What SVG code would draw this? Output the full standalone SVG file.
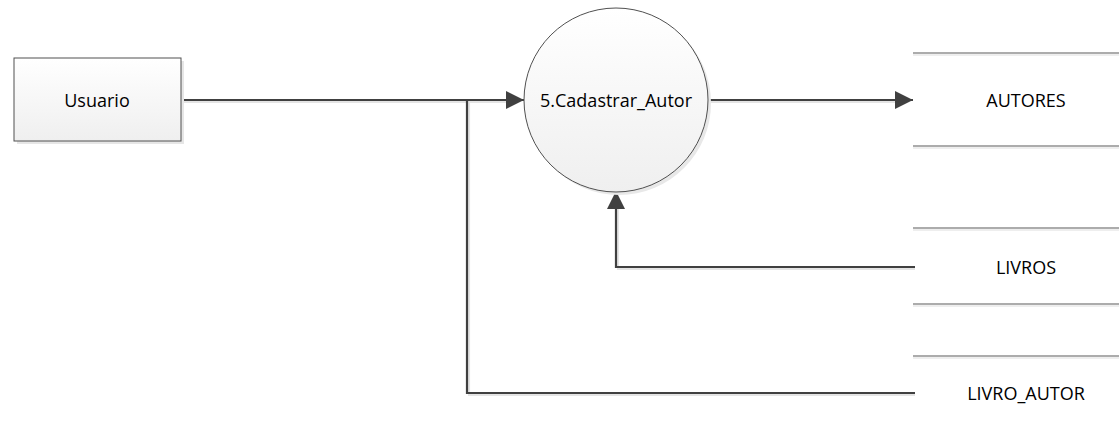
<svg xmlns="http://www.w3.org/2000/svg" width="1119" height="431" viewBox="0 0 1119 431">
<style>
.lbl{font-family:"Open Sans","Liberation Sans",sans-serif;font-size:18px;fill:#000;text-anchor:middle;dominant-baseline:central}
.flow{fill:none;stroke:#404040;stroke-width:2.2}
.sh{fill:none;stroke:#e4e4e4;stroke-width:2.2}
.store{stroke:#5a5a5a;stroke-width:1.2}
.storesh{stroke:#e8e8e8;stroke-width:1.5}
</style>
<defs>
<linearGradient id="g" x1="0" y1="0" x2="0" y2="1">
<stop offset="0" stop-color="#ffffff"/>
<stop offset="1" stop-color="#efefef"/>
</linearGradient>
<marker id="arrb" viewBox="0 0 10 10" refX="10" refY="5" markerWidth="18" markerHeight="18" markerUnits="userSpaceOnUse" orient="auto">
<path d="M0,0 L10,5 L0,10 z" fill="#404040"/>
</marker>
</defs>
<g id="connectors">
<path class="sh" d="M181,102 L508,102"/>
<path class="sh" d="M469,102 L469,395 L915,395"/>
<path class="sh" d="M618,208 L618,269 L915,269"/>
<path class="sh" d="M708,102 L896,102"/>
<path class="flow" d="M181,100 L524,100" marker-end="url(#arrb)"/>
<path class="flow" d="M467,100 L467,393 L915,393"/>
<path class="flow" d="M915,267 L616,267 L616,191" marker-end="url(#arrb)"/>
<path class="flow" d="M708,100 L913,100" marker-end="url(#arrb)"/>
</g>
<g id="usuario">
<rect x="17" y="61" width="167" height="83" fill="#e6e6e6"/>
<rect x="14" y="58" width="167" height="83" fill="url(#g)" stroke="#505050" stroke-width="1"/>
<text class="lbl" x="97" y="100">Usuario</text>
</g>
<g id="processo">
<circle cx="619" cy="103" r="92" fill="#e8e8e8"/>
<circle cx="616" cy="100" r="92" fill="url(#g)" stroke="#505050" stroke-width="1"/>
<text class="lbl" x="616" y="100">5.Cadastrar_Autor</text>
</g>
<g id="autores">
<line class="storesh" x1="913" y1="55" x2="1119" y2="55"/>
<line class="storesh" x1="913" y1="148" x2="1119" y2="148"/>
<line class="store" x1="913" y1="53" x2="1119" y2="53"/>
<line class="store" x1="913" y1="146" x2="1119" y2="146"/>
<text class="lbl" x="1026" y="100">AUTORES</text>
</g>
<g id="livros">
<line class="storesh" x1="913" y1="230" x2="1119" y2="230"/>
<line class="storesh" x1="913" y1="306" x2="1119" y2="306"/>
<line class="store" x1="913" y1="228" x2="1119" y2="228"/>
<line class="store" x1="913" y1="304" x2="1119" y2="304"/>
<text class="lbl" x="1026" y="267">LIVROS</text>
</g>
<g id="livro_autor">
<line class="storesh" x1="913" y1="358" x2="1119" y2="358"/>
<line class="store" x1="913" y1="356" x2="1119" y2="356"/>
<text class="lbl" x="1026" y="393">LIVRO_AUTOR</text>
</g>
</svg>
